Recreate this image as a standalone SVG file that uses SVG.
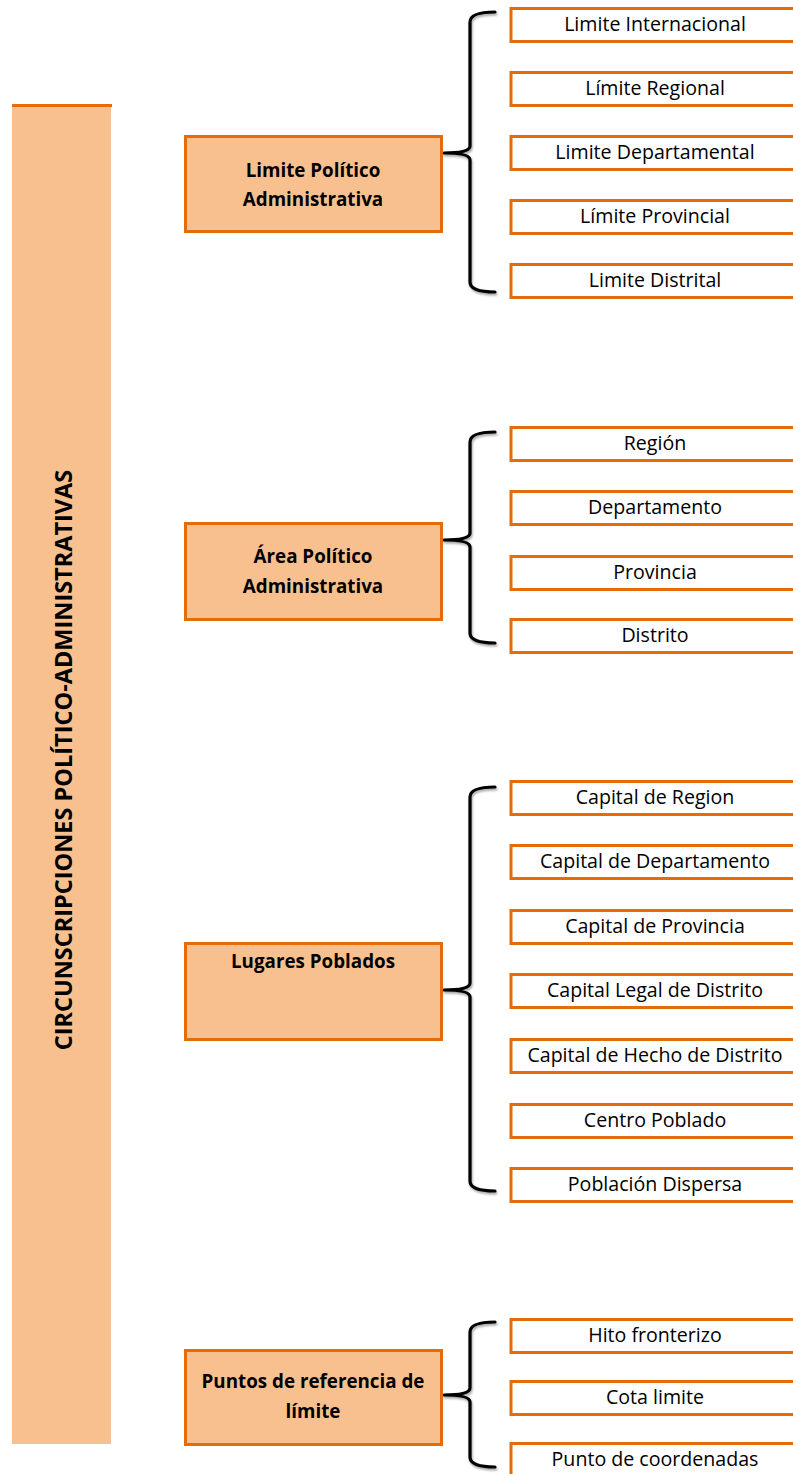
<svg xmlns="http://www.w3.org/2000/svg" width="793" height="1474" viewBox="0 0 793 1474">
<defs>
<filter id="sh" x="-50%" y="-10%" width="200%" height="120%">
<feDropShadow dx="1" dy="2" stdDeviation="1.2" flood-color="#000" flood-opacity="0.35"/>
</filter>
</defs>
<style>
.leaf{fill:#fff;stroke:#E46C0A;stroke-width:3}
.mid{fill:#F9C08F;stroke:#E46C0A;stroke-width:3}
.lt{font-family:"Open Sans","Liberation Sans",sans-serif;font-size:19.6px;fill:#000;text-anchor:middle}
.mt{font-family:"Open Sans","Liberation Sans",sans-serif;font-size:18.8px;font-weight:bold;fill:#000;text-anchor:middle}
.br{fill:none;stroke:#000;stroke-width:3.2;stroke-linecap:round;stroke-linejoin:round;filter:url(#sh)}
</style>
<g id="title">
<rect x="12" y="104" width="99" height="1340" fill="#F9C08F"/>
<rect x="12" y="104" width="100" height="3" fill="#E46C0A"/>
<text transform="translate(71.5,760) rotate(-90)" font-family="Open Sans, Liberation Sans, sans-serif" font-size="23.5" font-weight="bold" text-anchor="middle">CIRCUNSCRIPCIONES POLÍTICO-ADMINISTRATIVAS</text>
</g>
<g id="connectors">
<path class="br" d="M495,12 Q470,12 470,22 L470,146 Q470,153 444,153 Q470,153 470,160 L470,282 Q470,292 495,292"/>
<path class="br" d="M495,432 Q470,432 470,442 L470,533 Q470,540 444,540 Q470,540 470,547 L470,633 Q470,643 495,643"/>
<path class="br" d="M495,787 Q470,787 470,797 L470,983 Q470,990 444,990 Q470,990 470,997 L470,1181 Q470,1191 495,1191"/>
<path class="br" d="M495,1322 Q470,1322 470,1332 L470,1388 Q470,1395 444,1395 Q470,1395 470,1402 L470,1457 Q470,1467 495,1467"/>
</g>
<g id="n1"><rect class="mid" x="185.5" y="136.5" width="256" height="95"/><text class="mt" x="313" y="177">Limite Político</text><text class="mt" x="313" y="206">Administrativa</text></g>
<g id="n2"><rect class="mid" x="185.5" y="523.5" width="256" height="96"/><text class="mt" x="313" y="563">Área Político</text><text class="mt" x="313" y="593">Administrativa</text></g>
<g id="n3"><rect class="mid" x="185.5" y="943.5" width="256" height="96"/><text class="mt" x="313" y="968">Lugares Poblados</text></g>
<g id="n4"><rect class="mid" x="185.5" y="1350.5" width="256" height="94"/><text class="mt" x="313" y="1388">Puntos de referencia de</text><text class="mt" x="313" y="1418">límite</text></g>
<g id="l1"><rect class="leaf" x="511" y="8.5" width="295" height="33"/><text class="lt" x="655" y="31">Limite Internacional</text></g>
<g id="l2"><rect class="leaf" x="511" y="72.5" width="295" height="33"/><text class="lt" x="655" y="95">Límite Regional</text></g>
<g id="l3"><rect class="leaf" x="511" y="136.5" width="295" height="33"/><text class="lt" x="655" y="159">Limite Departamental</text></g>
<g id="l4"><rect class="leaf" x="511" y="200.5" width="295" height="33"/><text class="lt" x="655" y="223">Límite Provincial</text></g>
<g id="l5"><rect class="leaf" x="511" y="264.5" width="295" height="33"/><text class="lt" x="655" y="287">Limite Distrital</text></g>
<g id="l6"><rect class="leaf" x="511" y="427.5" width="295" height="33"/><text class="lt" x="655" y="450">Región</text></g>
<g id="l7"><rect class="leaf" x="511" y="491.5" width="295" height="33"/><text class="lt" x="655" y="514">Departamento</text></g>
<g id="l8"><rect class="leaf" x="511" y="556.5" width="295" height="33"/><text class="lt" x="655" y="579">Provincia</text></g>
<g id="l9"><rect class="leaf" x="511" y="619.5" width="295" height="33"/><text class="lt" x="655" y="642">Distrito</text></g>
<g id="l10"><rect class="leaf" x="511" y="781.5" width="295" height="33"/><text class="lt" x="655" y="804">Capital de Region</text></g>
<g id="l11"><rect class="leaf" x="511" y="845.5" width="295" height="33"/><text class="lt" x="655" y="868">Capital de Departamento</text></g>
<g id="l12"><rect class="leaf" x="511" y="910.5" width="295" height="33"/><text class="lt" x="655" y="933">Capital de Provincia</text></g>
<g id="l13"><rect class="leaf" x="511" y="974.5" width="295" height="33"/><text class="lt" x="655" y="997">Capital Legal de Distrito</text></g>
<g id="l14"><rect class="leaf" x="511" y="1039.5" width="295" height="33"/><text class="lt" x="655" y="1062">Capital de Hecho de Distrito</text></g>
<g id="l15"><rect class="leaf" x="511" y="1104.5" width="295" height="33"/><text class="lt" x="655" y="1127">Centro Poblado</text></g>
<g id="l16"><rect class="leaf" x="511" y="1168.5" width="295" height="33"/><text class="lt" x="655" y="1191">Población Dispersa</text></g>
<g id="l17"><rect class="leaf" x="511" y="1319.5" width="295" height="33"/><text class="lt" x="655" y="1342">Hito fronterizo</text></g>
<g id="l18"><rect class="leaf" x="511" y="1381.5" width="295" height="33"/><text class="lt" x="655" y="1404">Cota limite</text></g>
<g id="l19"><rect class="leaf" x="511" y="1443.5" width="295" height="33"/><text class="lt" x="655" y="1466">Punto de coordenadas</text></g>
</svg>
